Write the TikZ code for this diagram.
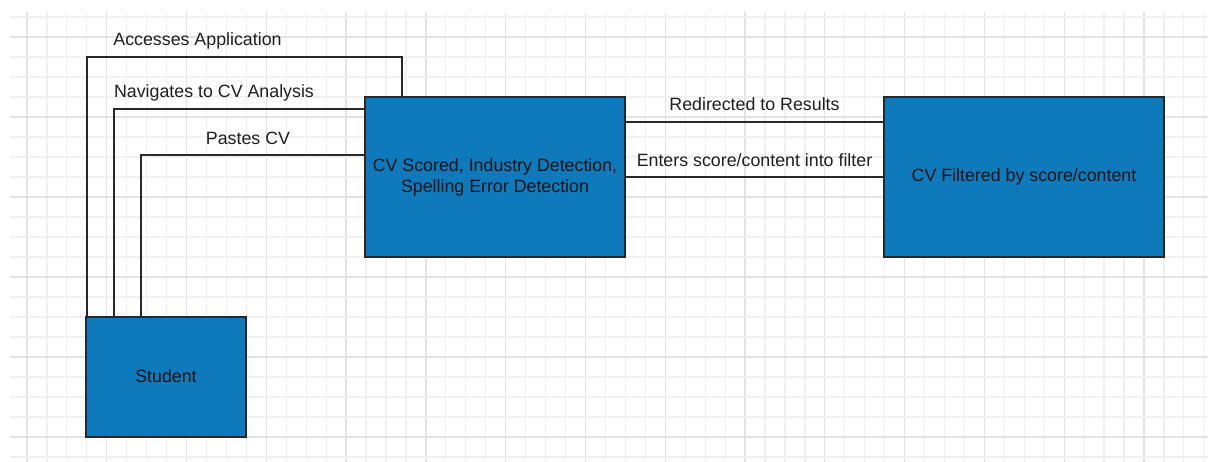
\documentclass[tikz,border=0pt]{standalone}
\usepackage{fontspec}
\setmainfont{Liberation Sans}
\definecolor{boxblue}{RGB}{14,122,187}
\definecolor{gridminor}{RGB}{240,240,240}
\definecolor{gridmajor}{RGB}{227,227,227}
\definecolor{inkline}{RGB}{40,40,40}
\tikzset{
  box/.style={draw=inkline, line width=1.6pt, fill=boxblue, text=black!92,
    font=\fontsize{17.8}{21}\selectfont, align=center, inner sep=0pt},
  lbl/.style={font=\fontsize{17.8}{21}\selectfont, text=black!88, anchor=base, inner sep=0pt},
  conn/.style={draw=inkline, line width=1.7pt},
  gminor/.style={draw=gridminor, line width=1.2pt},
  gmajor/.style={draw=gridmajor, line width=1.3pt}
}
\begin{document}
\begin{tikzpicture}[x=1pt,y=-1pt]
\useasboundingbox (0,0) rectangle (1208,462);
\fill[white] (0,0) rectangle (1208,462);
% grid
\foreach \k in {0,...,59} {
  \pgfmathsetmacro\xx{27+19.946*\k}
  \pgfmathtruncatemacro\m{mod(\k,4)}
  \ifnum\m=0 \draw[gmajor] (\xx,12) -- (\xx,462); \else \draw[gminor] (\xx,12) -- (\xx,462); \fi
}
\foreach \j in {0,...,22} {
  \pgfmathsetmacro\yy{17+20*\j}
  \pgfmathtruncatemacro\m{mod(\j,4)}
  \ifnum\m=1 \draw[gmajor] (10,\yy) -- (1208,\yy); \else \draw[gminor] (10,\yy) -- (1208,\yy); \fi
}
% boxes
\node[box, minimum width=160pt, minimum height=120pt] (student) at (166,377) {\raisebox{2pt}{Student}};
\node[box, minimum width=260pt, minimum height=160pt] (cv) at (495,177) {CV Scored, Industry Detection,\\Spelling Error Detection};
\node[box, minimum width=280pt, minimum height=160pt] (flt) at (1024,177) {CV Filtered by score/content};
% corner coordinates
\coordinate (a1) at (402,56.7);
\coordinate (n1) at (0,109);
\coordinate (p1) at (0,155);
\coordinate (r1) at (0,122.3);
% connectors
\draw[conn] ([xshift=2pt]student.north west) |- (a1) -- (a1 |- cv.north);
\draw[conn] ([xshift=29pt]student.north west) |- (cv.west |- n1);
\draw[conn] ([xshift=56pt]student.north west) |- (cv.west |- p1);
\draw[conn] (cv.east |- r1) -- (flt.west |- r1);
\draw[conn] (cv.east) -- (flt.west);
% labels
\node[lbl] (l1) at (197.5,45.7) {Accesses Application};
\node[lbl] (l2) at (214,97.3) {Navigates to CV Analysis};
\node[lbl] (l3) at (248,144.5) {Pastes CV};
\node[lbl] (l4) at (754.5,110.5) {Redirected to Results};
\node[lbl] (l5) at (754.5,166.3) {Enters score/content into filter};
\end{tikzpicture}
\end{document}
